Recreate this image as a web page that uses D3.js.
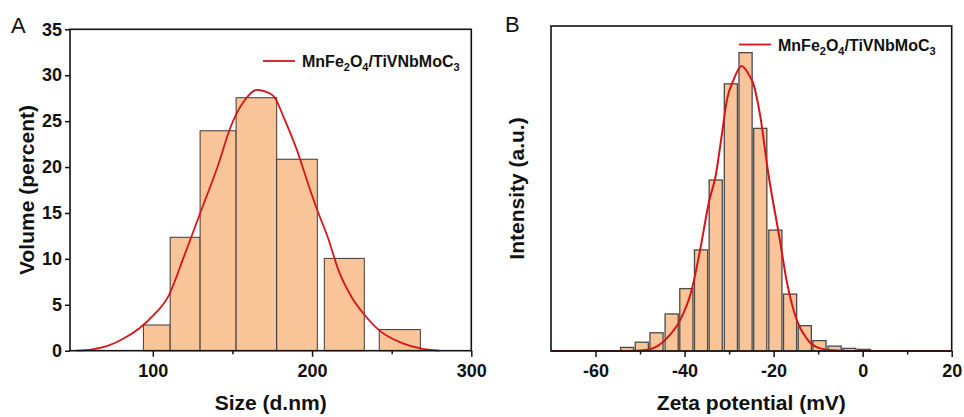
<!DOCTYPE html>
<html>
<head>
<meta charset="utf-8">
<script src="https://cdn.jsdelivr.net/npm/d3@7/dist/d3.min.js"></script>
<style>
  html, body { margin: 0; padding: 0; background: #fff; }
  svg { display: block; font-family: "Liberation Sans", Arial, Helvetica, sans-serif; }
  .tick-label { font-weight: bold; font-size: 18px; fill: #111; }
  .axis-title { font-weight: bold; font-size: 21px; fill: #111; }
  .legend-text { font-weight: bold; font-size: 16px; fill: #111; }
  .panel-letter { font-size: 22px; fill: #111; }
</style>
</head>
<body>
<svg id="chart" width="964" height="417"></svg>
<script>
// ---- Panel A: particle size distribution (volume %) ----
const sizeBinStart = [94.1, 110.9, 129.7, 152.3, 177.8, 207.7, 242.2];
const sizeBinEnd   = [110.9, 129.7, 152.3, 177.8, 203.3, 232.8, 268.0];
const sizeVolume   = [2.8, 12.35, 23.95, 27.55, 20.85, 10.05, 2.3];

// fitted distribution curve
const sizeFitX = [52, 62, 72, 82, 92, 100, 110, 119, 130, 141, 148.5, 157, 165.3, 173.6, 176.8, 182, 190.4, 198.8, 203.3, 210, 216.5, 225, 232, 243, 257, 268, 280];
const sizeFitY = [0, 0.15, 0.55, 1.35, 2.5, 3.8, 6.0, 10.0, 15.1, 20.2, 24.2, 27.1, 28.4, 28.0, 27.5, 25.5, 21.9, 17.5, 15.3, 12.3, 8.8, 5.8, 4.1, 2.1, 0.8, 0.25, 0];

const sizeMajorTicks = [100, 200, 300];
const sizeMinorTicks = [150, 250];
const volumeTicks = [0, 5, 10, 15, 20, 25, 30, 35];

// ---- Panel B: zeta potential distribution ----
const zetaCenter    = [-52.9, -49.6, -46.3, -42.9, -39.6, -36.3, -33.0, -29.6, -26.3, -23.0, -19.6, -16.3, -13.0, -9.7, -6.3, -3.0, 0.3];
const zetaIntensity = [1.1, 2.7, 5.6, 11.4, 19.2, 31.1, 52.6, 82.2, 91.8, 68.5, 37.2, 17.5, 7.8, 3.2, 1.5, 0.8, 0.5];
const zetaBarWidth = 2.95;

const zetaFitX = [-70, -55, -51, -48, -46, -44, -41, -38.4, -36.5, -34.5, -33, -31.7, -30.5, -29, -27.2, -25.3, -24.6, -23.1, -21.2, -18.6, -17.1, -14.8, -12.6, -9.6, -6.7, -3, 20];
const zetaFitY = [0, 0, 0.1, 0.5, 1.6, 3.9, 9.5, 18.8, 31.1, 46, 54, 65.9, 77.2, 83.4, 87.7, 84.4, 82.4, 73.1, 54.7, 34.2, 21.8, 9.5, 3.9, 0.8, 0.2, 0, 0];

const zetaMajorTicks = [-60, -40, -20, 0, 20];
const zetaMinorTicks = [-50, -30, -10, 10];

const legendLabel = [["MnFe", ""], ["2", "sub"], ["O", ""], ["4", "sub"], ["/TiVNbMoC", ""], ["3", "sub"]];

const BAR_FILL = "#f9c497";
const FIT_RED = "#d7141a";

// plain hyphen for negative tick values
const tickFmt = v => String(v);

const svg = d3.select("#chart");
svg.append("rect").attr("width", 964).attr("height", 417).attr("fill", "#fff");

function drawLegend(g, x0, y0) {
  g.append("line")
    .attr("x1", x0).attr("x2", x0 + 32)
    .attr("y1", y0 - 6).attr("y2", y0 - 6)
    .attr("stroke", FIT_RED).attr("stroke-width", 1.8);
  const t = g.append("text").attr("class", "legend-text")
    .attr("x", x0 + 39).attr("y", y0);
  legendLabel.forEach(([s, kind]) => {
    const ts = t.append("tspan").text(s);
    if (kind === "sub") ts.attr("font-size", 11).attr("dy", 4);
    else ts.attr("dy", t.selectAll("tspan").size() > 1 ? -4 : 0);
  });
}

function frame(g, x, y) {
  const [x0, x1] = x.range();
  const [y0, y1] = y.range();
  g.append("rect")
    .attr("x", x0).attr("y", y1)
    .attr("width", x1 - x0).attr("height", y0 - y1)
    .attr("fill", "none").attr("stroke", "#111").attr("stroke-width", 1.6);
}

function xTicks(g, x, y, major, minor, fmt) {
  const yb = y.range()[0];
  const ax = d3.axisBottom(x).tickValues(major).tickSize(6).tickFormat(fmt);
  const a = g.append("g").attr("transform", `translate(0,${yb})`).call(ax);
  a.select(".domain").remove();
  a.selectAll(".tick line").attr("stroke", "#111").attr("stroke-width", 1.5);
  a.selectAll(".tick text").attr("class", "tick-label").attr("dy", null).attr("y", 26).attr("font-size", null).attr("font-family", null).attr("fill", null);
  const m = g.append("g").attr("transform", `translate(0,${yb})`)
    .call(d3.axisBottom(x).tickValues(minor).tickSize(3.5).tickFormat(""));
  m.select(".domain").remove();
  m.selectAll(".tick line").attr("stroke", "#111").attr("stroke-width", 1.5);
}

// ================= Panel A =================
{
  const g = svg.append("g");
  const x = d3.scaleLinear().domain([48, 300]).range([70, 471.3]);
  const y = d3.scaleLinear().domain([0, 35]).range([350.7, 29.3]);

  g.selectAll("rect.bar")
    .data(sizeVolume.map((v, i) => ({ a: sizeBinStart[i], b: sizeBinEnd[i], v })))
    .join("rect").attr("class", "bar")
    .attr("x", d => x(d.a)).attr("width", d => x(d.b) - x(d.a))
    .attr("y", d => y(d.v)).attr("height", d => y(0) - y(d.v))
    .attr("fill", BAR_FILL).attr("stroke", "#3a3a3a").attr("stroke-width", 1);

  const line = d3.line().x(d => x(d[0])).y(d => y(d[1])).curve(d3.curveMonotoneX);
  g.append("path").datum(sizeFitX.map((v, i) => [v, sizeFitY[i]]))
    .attr("d", line).attr("fill", "none").attr("stroke", FIT_RED).attr("stroke-width", 1.8);

  frame(g, x, y);
  xTicks(g, x, y, sizeMajorTicks, sizeMinorTicks, tickFmt);

  const ay = g.append("g").attr("transform", `translate(${x.range()[0]},0)`)
    .call(d3.axisLeft(y).tickValues(volumeTicks).tickSize(5).tickFormat(tickFmt));
  ay.select(".domain").remove();
  ay.selectAll(".tick line").attr("stroke", "#111").attr("stroke-width", 1.5);
  ay.selectAll(".tick text").attr("class", "tick-label").attr("x", -8).attr("font-size", null).attr("font-family", null).attr("fill", null);

  g.append("text").attr("class", "axis-title").attr("text-anchor", "middle")
    .attr("x", (x.range()[0] + x.range()[1]) / 2).attr("y", 410).text("Size (d.nm)");
  g.append("text").attr("class", "axis-title").attr("text-anchor", "middle")
    .attr("transform", `translate(34,${(y.range()[0] + y.range()[1]) / 2}) rotate(-90)`)
    .text("Volume (percent)");
  g.append("text").attr("class", "panel-letter").attr("x", 11).attr("y", 33).text("A");

  drawLegend(g, 263, 67);
}

// ================= Panel B =================
{
  const g = svg.append("g");
  const x = d3.scaleLinear().domain([-70, 20]).range([551, 951.7]);
  const y = d3.scaleLinear().domain([0, 100]).range([351, 26]);

  g.selectAll("rect.bar")
    .data(zetaIntensity.map((v, i) => ({ c: zetaCenter[i], v })))
    .join("rect").attr("class", "bar")
    .attr("x", d => x(d.c - zetaBarWidth / 2))
    .attr("width", d => x(d.c + zetaBarWidth / 2) - x(d.c - zetaBarWidth / 2))
    .attr("y", d => y(d.v)).attr("height", d => y(0) - y(d.v))
    .attr("fill", BAR_FILL).attr("stroke", "#4a4a4a").attr("stroke-width", 1.3);

  const line = d3.line().x(d => x(d[0])).y(d => y(d[1])).curve(d3.curveMonotoneX);
  g.append("path").datum(zetaFitX.map((v, i) => [v, zetaFitY[i]]))
    .attr("d", line).attr("fill", "none").attr("stroke", FIT_RED).attr("stroke-width", 2);

  frame(g, x, y);
  xTicks(g, x, y, zetaMajorTicks, zetaMinorTicks, tickFmt);

  g.append("text").attr("class", "axis-title").attr("text-anchor", "middle")
    .attr("x", (x.range()[0] + x.range()[1]) / 2).attr("y", 410).text("Zeta potential (mV)");
  g.append("text").attr("class", "axis-title").attr("text-anchor", "middle")
    .attr("transform", `translate(524,${(y.range()[0] + y.range()[1]) / 2}) rotate(-90)`)
    .text("Intensity (a.u.)");
  g.append("text").attr("class", "panel-letter").attr("x", 505).attr("y", 32).text("B");

  drawLegend(g, 739, 50.5);
}
</script>
</body>
</html>
